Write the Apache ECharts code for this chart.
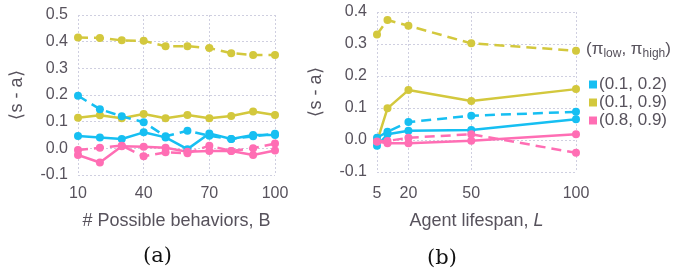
<!DOCTYPE html>
<html><head><meta charset="utf-8">
<script src="https://cdn.jsdelivr.net/npm/echarts@6/dist/echarts.min.js"></script>
<style>html,body{margin:0;padding:0;background:#fff}#c{width:686px;height:271px}</style>
</head><body><div id="c"></div>
<script>
// Panel (a): number of possible behaviors B
const bValues = [10, 20, 30, 40, 50, 60, 70, 80, 90, 100];
const aBlueDashed   = [0.197, 0.147, 0.120, 0.098, 0.045, 0.066, 0.047, 0.035, 0.045, 0.055];
const aBlueSolid    = [0.046, 0.041, 0.035, 0.060, 0.041, -0.003, 0.056, 0.035, 0.050, 0.050];
const aYellowDashed = [0.416, 0.414, 0.405, 0.403, 0.383, 0.383, 0.376, 0.357, 0.350, 0.350];
const aYellowSolid  = [0.115, 0.124, 0.113, 0.129, 0.113, 0.125, 0.113, 0.121, 0.138, 0.125];
const aPinkDashed   = [-0.006, 0.002, 0.010, -0.030, -0.015, -0.018, 0.010, -0.010, 0.000, 0.018];
const aPinkSolid    = [-0.025, -0.053, 0.008, 0.006, 0.002, -0.013, -0.010, -0.010, -0.025, -0.008];

// Panel (b): agent lifespan L
const lValues = [5, 10, 20, 50, 100];
const bBlueDashed   = [0.007, 0.026, 0.056, 0.076, 0.088];
const bBlueSolid    = [-0.018, 0.018, 0.029, 0.031, 0.065];
const bYellowDashed = [0.330, 0.375, 0.357, 0.302, 0.279];
const bYellowSolid  = [-0.005, 0.099, 0.156, 0.122, 0.159];
const bPinkDashed   = [-0.005, -0.003, 0.007, 0.018, -0.040];
const bPinkSolid    = [-0.005, -0.010, -0.010, -0.002, 0.018];

const legendNames = ['(0.1, 0.2)', '(0.1, 0.9)', '(0.8, 0.9)'];
const lTicks = [5, 20, 50, 100];

const BLUE = '#16bff2', YELLOW = '#d3c83d', PINK = '#ff6eb4';
const TXT = '#57525c';
const FONT = 'Liberation Sans';

function mk(name, xs, ys, color, dashed, idx) {
  return {
    name: name, type: 'line', xAxisIndex: idx, yAxisIndex: idx,
    data: xs.map((x, i) => [x, ys[i]]),
    symbol: 'circle', symbolSize: 8,
    itemStyle: {color: color},
    lineStyle: {color: color, width: 2.5, type: dashed ? [10, 6] : 'solid'},
    emphasis: {disabled: true}, animation: false, z: dashed ? 3 : 2
  };
}

const gridLine = {show: true, lineStyle: {color: '#cfcfe0', type: [2, 2], width: 1}};
const fmt = v => (Math.abs(v) < 1e-9 ? '0.0' : v.toFixed(1));

const option = {
  animation: false,
  grid: [
    {left: 78, width: 197, top: 15, height: 160},
    {left: 377, width: 199, top: 12, height: 160}
  ],
  xAxis: [
    {gridIndex: 0, type: 'value', min: 10, max: 100, interval: 30,
     axisLine: {show: false}, axisTick: {show: false},
     axisLabel: {color: TXT, fontSize: 16, fontFamily: FONT, margin: 11},
     splitLine: gridLine,
     name: '# Possible behaviors, B', nameLocation: 'middle', nameGap: 37,
     nameTextStyle: {color: TXT, fontSize: 18, fontFamily: FONT}},
    {gridIndex: 1, type: 'value', min: 5, max: 100,
     axisLine: {show: false},
     axisTick: {show: false, customValues: lTicks},
     axisLabel: {color: TXT, fontSize: 16, fontFamily: FONT, margin: 14, customValues: lTicks},
     splitLine: gridLine,
     name: '{n|Agent lifespan, }{i|L}', nameLocation: 'middle', nameGap: 40,
     nameTextStyle: {color: TXT, fontSize: 18, fontFamily: FONT,
       rich: {n: {color: TXT, fontSize: 18, fontFamily: FONT},
              i: {color: TXT, fontSize: 18, fontFamily: FONT, fontStyle: 'italic'}}}}
  ],
  yAxis: [
    {gridIndex: 0, type: 'value', min: -0.1, max: 0.5, interval: 0.1,
     axisLine: {show: false}, axisTick: {show: false},
     axisLabel: {color: TXT, fontSize: 16, fontFamily: FONT, margin: 10, formatter: fmt},
     splitLine: gridLine,
     name: '⟨s - a⟩', nameLocation: 'middle', nameGap: 52, nameRotate: 90,
     nameTextStyle: {color: TXT, fontSize: 18, fontFamily: FONT}},
    {gridIndex: 1, type: 'value', min: -0.1, max: 0.4, interval: 0.1,
     axisLine: {show: false}, axisTick: {show: false},
     axisLabel: {color: TXT, fontSize: 16, fontFamily: FONT, margin: 10, formatter: fmt},
     splitLine: gridLine,
     name: '⟨s - a⟩', nameLocation: 'middle', nameGap: 52, nameRotate: 90,
     nameTextStyle: {color: TXT, fontSize: 18, fontFamily: FONT}}
  ],
  legend: {
    data: legendNames, orient: 'vertical', left: 584, top: 71,
    icon: 'rect', itemWidth: 8, itemHeight: 8, itemGap: 1,
    textStyle: {color: TXT, fontSize: 17, fontFamily: FONT, padding: [0, 0, 0, -3]},
    selectedMode: false
  },
  graphic: [
    {type: 'text', left: 586, top: 41, silent: true,
     style: {text: '{a|(π}{s|low}{a|, π}{s|high}{a|)}',
       rich: {a: {fill: TXT, fontSize: 17, fontFamily: FONT},
              s: {fill: TXT, fontSize: 12, fontFamily: FONT, verticalAlign: 'bottom', padding: [9, 0, 0, 0]}}}},
    {type: 'text', left: 143, top: 246, silent: true,
     style: {text: '(a)', fill: '#111', fontSize: 21, fontFamily: 'DejaVu Serif'}},
    {type: 'text', left: 427, top: 248, silent: true,
     style: {text: '(b)', fill: '#111', fontSize: 21, fontFamily: 'DejaVu Serif'}}
  ],
  series: [
    mk(legendNames[1], bValues, aYellowSolid, YELLOW, false, 0),
    mk(legendNames[1], bValues, aYellowDashed, YELLOW, true, 0),
    mk(legendNames[0], bValues, aBlueSolid, BLUE, false, 0),
    mk(legendNames[0], bValues, aBlueDashed, BLUE, true, 0),
    mk(legendNames[2], bValues, aPinkSolid, PINK, false, 0),
    mk(legendNames[2], bValues, aPinkDashed, PINK, true, 0),
    mk(legendNames[1], lValues, bYellowSolid, YELLOW, false, 1),
    mk(legendNames[1], lValues, bYellowDashed, YELLOW, true, 1),
    mk(legendNames[0], lValues, bBlueSolid, BLUE, false, 1),
    mk(legendNames[0], lValues, bBlueDashed, BLUE, true, 1),
    mk(legendNames[2], lValues, bPinkSolid, PINK, false, 1),
    mk(legendNames[2], lValues, bPinkDashed, PINK, true, 1)
  ]
};
const chart = echarts.init(document.getElementById('c'), null, {renderer: 'canvas'});
chart.setOption(option);
</script></body></html>
